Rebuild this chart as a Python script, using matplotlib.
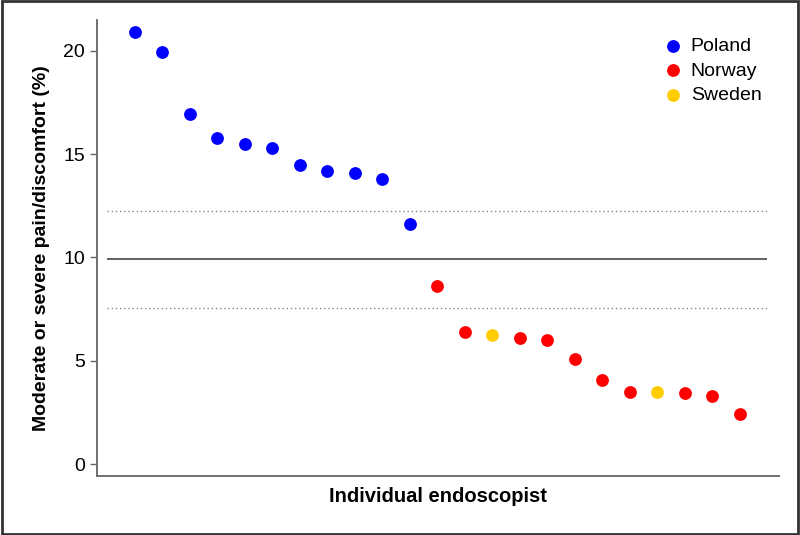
import matplotlib.pyplot as plt

plt.rcParams['font.family'] = ['Liberation Sans', 'DejaVu Sans']

# rates per endoscopist, sorted high to low
rates = [20.9, 19.95, 16.95, 15.8, 15.5, 15.3, 14.5, 14.2, 14.1, 13.8, 11.6,
         8.6, 6.4, 6.25, 6.1, 6.0, 5.1, 4.05, 3.5, 3.47, 3.42, 3.28, 2.4]
countries = ['Poland'] * 11 + ['Norway', 'Norway', 'Sweden', 'Norway', 'Norway',
                               'Norway', 'Norway', 'Norway', 'Sweden', 'Norway',
                               'Norway', 'Norway']
country_order = ['Poland', 'Norway', 'Sweden']
country_colors = {'Poland': '#0000ff', 'Norway': '#ff0000', 'Sweden': '#ffcc00'}
mean_rate = 9.93
lower_limit = 7.57
upper_limit = 12.24

fig = plt.figure(figsize=(8, 5.35), dpi=100)
ax = fig.add_axes([97 / 800, 1 - 476 / 535, (779 - 97) / 800, (476 - 20) / 535])

ax.hlines(mean_rate, 0, 24, color='#555555', lw=1.3)
ax.hlines([upper_limit, lower_limit], 0, 24, color='#888888', lw=1, linestyles=(0, (1, 2)))

xs = list(range(1, len(rates) + 1))
for c in country_order:
    px = [x for x, k in zip(xs, countries) if k == c]
    py = [r for r, k in zip(rates, countries) if k == c]
    ax.scatter(px, py, s=85, color=country_colors[c], label=c, zorder=3, linewidths=0)

ax.set_xlim(-0.38, 24.42)
ax.set_ylim(-0.58, 21.5)
ax.set_yticks([0, 5, 10, 15, 20])
ax.set_xticks([])
for s in ['top', 'right']:
    ax.spines[s].set_visible(False)
for s in ['left', 'bottom']:
    ax.spines[s].set_color('#666666')
    ax.spines[s].set_linewidth(1.3)
ax.tick_params(axis='y', labelsize=14, colors='#666666', labelcolor='black', length=5, width=1)

ax.set_ylabel('Moderate or severe pain/discomfort (%)', fontsize=14, fontweight='bold', labelpad=10)
ax.set_xlabel('Individual endoscopist', fontsize=14.5, fontweight='bold', labelpad=8)

ax.legend(loc='upper right', bbox_to_anchor=(1.0, 1.0), frameon=False, fontsize=14,
          handlelength=1.0, handletextpad=0.4, markerscale=1.0, labelspacing=0.35)

# outer frame
fig.patches.append(plt.Rectangle((0.002, 0.002), 0.996, 0.996, transform=fig.transFigure,
                                 fill=False, edgecolor='#333333', lw=2))

fig.savefig('out.png', dpi=100)
